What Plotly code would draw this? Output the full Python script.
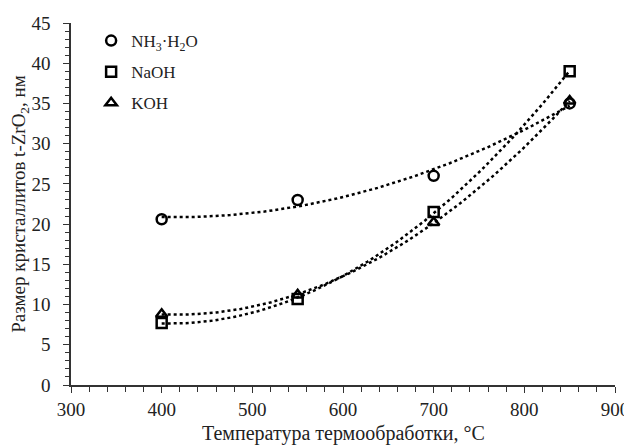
import numpy as np
import plotly.graph_objects as go

temps = [400, 550, 700, 850]
nh3 = [20.6, 23.0, 26.0, 35.0]
naoh = [7.7, 10.7, 21.5, 39.0]
koh = [8.8, 11.2, 20.2, 35.3]

series = [
    ("NH<sub>3</sub>·H<sub>2</sub>O", nh3, "circle-open"),
    ("NaOH", naoh, "square-open"),
    ("KOH", koh, "triangle-up-open"),
]

fig = go.Figure()
grid = np.linspace(min(temps), max(temps), 120)
for i, (name, vals, sym) in enumerate(series):
    coef = np.polyfit(temps, vals, 2)
    fig.add_trace(go.Scatter(x=grid, y=np.polyval(coef, grid), mode="lines",
                             line=dict(color="black", dash="dot", width=2.5),
                             showlegend=False, hoverinfo="skip"))
for i, (name, vals, sym) in enumerate(series):
    fig.add_trace(go.Scatter(x=temps, y=vals, mode="markers", name=name,
                             legendgroup=f"g{i}",
                             marker=dict(symbol=sym, size=10, color="black",
                                         line=dict(color="black", width=2.5))))

font = "Liberation Serif"
# page body has an 8px margin, so the figure is sized to fill the rest of the window
fig.update_layout(
    width=624, height=437,
    margin=dict(l=63, r=17, t=15, b=60, autoexpand=False),
    paper_bgcolor="white", plot_bgcolor="white",
    font=dict(family=font, size=19, color="#222"),
    legend=dict(x=0.037, y=1.0, xanchor="left", yanchor="top",
                bgcolor="rgba(0,0,0,0)", font=dict(size=17, family=font, color="#222"),
                tracegroupgap=6, itemwidth=30),
    showlegend=True,
)
fig.add_annotation(text="Температура термообработки, °C", x=0.5, y=0,
                   xref="paper", yref="paper", xanchor="center", yanchor="top",
                   yshift=-35, showarrow=False, font=dict(size=20, family=font, color="#222"))
fig.update_xaxes(range=[300, 900], dtick=100, tick0=300, automargin=False,
                 showline=True, linecolor="#333", linewidth=1.5,
                 ticks="outside", ticklen=6, tickcolor="#333", tickwidth=1.2,
                 tickfont=dict(size=19),
                 minor=dict(dtick=20, ticks="outside", ticklen=5, tickcolor="#333"),
                 showgrid=False, zeroline=False)
fig.update_yaxes(range=[0, 45], dtick=5, automargin=False,
                 showline=True, linecolor="#333", linewidth=1.5,
                 ticks="outside", ticklen=6, tickcolor="#333", tickwidth=1.2,
                 tickfont=dict(size=19), ticklabelstandoff=9,
                 minor=dict(dtick=1, ticks="outside", ticklen=4, tickcolor="#333"),
                 showgrid=False, zeroline=False,
                 title=dict(text="Размер кристаллитов t-ZrO<sub>2</sub>, нм", standoff=6,
                            font=dict(size=19)))
fig.write_html("out.html")
